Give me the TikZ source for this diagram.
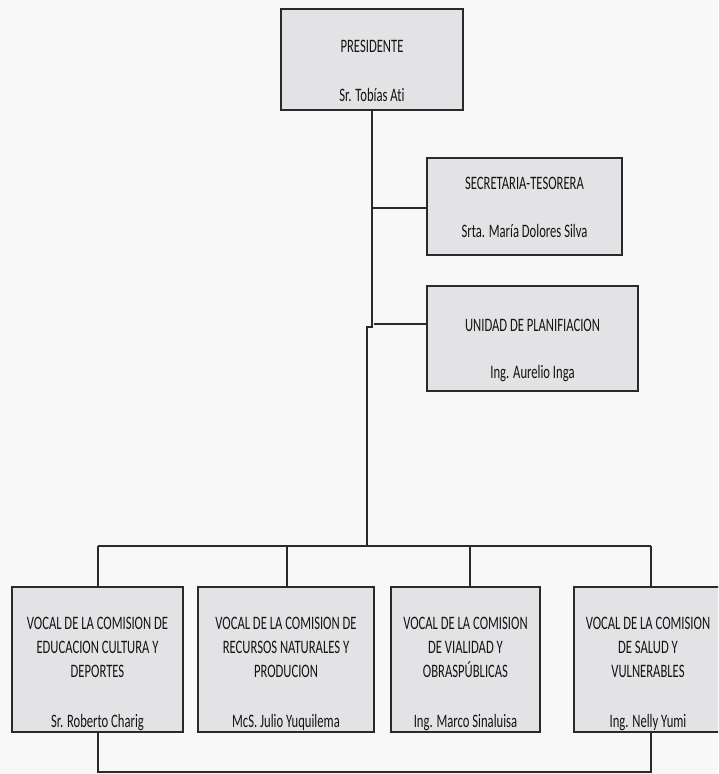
\documentclass[tikz,border=0pt]{standalone}
\usepackage{fontspec}
\setmainfont{Carlito}[Ligatures=NoCommon]
\usepackage{graphicx}
\definecolor{linec}{HTML}{2A2A2A}
\definecolor{boxfill}{HTML}{E3E3E5}
\definecolor{pagebg}{HTML}{F8F8F8}
\definecolor{textc}{HTML}{141414}
\newcommand{\nar}[1]{\scalebox{0.665}[1]{\begin{tabular}{@{}c@{}}#1\end{tabular}}}
\tikzset{
  orgbox/.style={draw=linec, fill=boxfill, line width=1.1pt, inner sep=0pt},
  lbl/.style={inner sep=0pt, text=textc, font=\fontsize{19}{24}\selectfont},
  conn/.style={draw=linec, line width=1.1pt}
}
\begin{document}
\begin{tikzpicture}[x=1pt,y=-1pt]
\fill[pagebg] (0,0) rectangle (718,774);
\useasboundingbox (0,0) rectangle (718,774);
\clip (0,0) rectangle (718,774);
% boxes
\node[orgbox, minimum width=182pt, minimum height=101pt] (pres) at (372,59.5) {};
\node[orgbox, minimum width=195pt, minimum height=97pt] (secr) at (524.5,206.5) {};
\node[orgbox, minimum width=211pt, minimum height=105pt] (unid) at (532.5,338.5) {};
\node[orgbox, minimum width=171pt, minimum height=145pt] (v1) at (97.5,659.5) {};
\node[orgbox, minimum width=176pt, minimum height=145pt] (v2) at (286,659.5) {};
\node[orgbox, minimum width=149pt, minimum height=145pt] (v3) at (465.5,659.5) {};
\node[orgbox, minimum width=148pt, minimum height=145pt] (v4) at (648,659.5) {};
% texts
\node[lbl] (presT) at (372,48) {\nar{PRESIDENTE}};
\node[lbl] (presN) at (372,97) {\nar{Sr. Tobías\ Ati}};
\node[lbl] (secrT) at (524.5,185) {\nar{SECRETARIA-TESORERA}};
\node[lbl] (secrN) at (524.5,233) {\nar{Srta. María Dolores Silva}};
\node[lbl] (unidT) at (532.5,327) {\nar{UNIDAD DE PLANIFIACION}};
\node[lbl] (unidN) at (532.5,374) {\nar{Ing. Aurelio Inga}};
\node[lbl] (v1T) at (97.5,649) {\nar{VOCAL DE LA COMISION DE\\EDUCACION CULTURA Y\\DEPORTES}};
\node[lbl] (v1N) at (97.5,723) {\nar{Sr. Roberto Charig}};
\node[lbl] (v2T) at (286,649) {\nar{VOCAL DE LA COMISION DE\\RECURSOS NATURALES Y\\PRODUCION}};
\node[lbl] (v2N) at (286,723) {\nar{McS. Julio Yuquilema}};
\node[lbl] (v3T) at (465.5,649) {\nar{VOCAL DE LA COMISION\\DE VIALIDAD Y\\OBRASPÚBLICAS}};
\node[lbl] (v3N) at (465.5,723) {\nar{Ing. Marco Sinaluisa}};
\node[lbl] (v4T) at (648,649) {\nar{VOCAL DE LA COMISION\\DE SALUD Y\\VULNERABLES}};
\node[lbl] (v4N) at (648,723) {\nar{Ing. Nelly Yumi}};
% junction coordinates
\coordinate (sj) at (372,208);
\coordinate (uj) at (374,324);
\coordinate (k1) at (372,327);
\coordinate (k2) at (367,327);
\coordinate (bus) at (367,546);
\coordinate (b1) at (98,546);
\coordinate (b2) at (287,546);
\coordinate (b3) at (470,546);
\coordinate (b4) at (651,546);
\coordinate (d1) at (98,772);
\coordinate (d4) at (651,772);
% connectors
\draw[conn] (pres.south) -- (k1) -- (k2) -- (bus);
\draw[conn] (sj) -- (sj -| secr.west);
\draw[conn] (uj) -- (uj -| unid.west);
\draw[conn] (b1) -- (b4);
\draw[conn] (b1) -- (b1 |- v1.north);
\draw[conn] (b2) -- (b2 |- v2.north);
\draw[conn] (b3) -- (b3 |- v3.north);
\draw[conn] (b4) -- (b4 |- v4.north);
\draw[conn] (d1 |- v1.south) -- (d1) -- (d4) -- (d4 |- v4.south);
\end{tikzpicture}
\end{document}
